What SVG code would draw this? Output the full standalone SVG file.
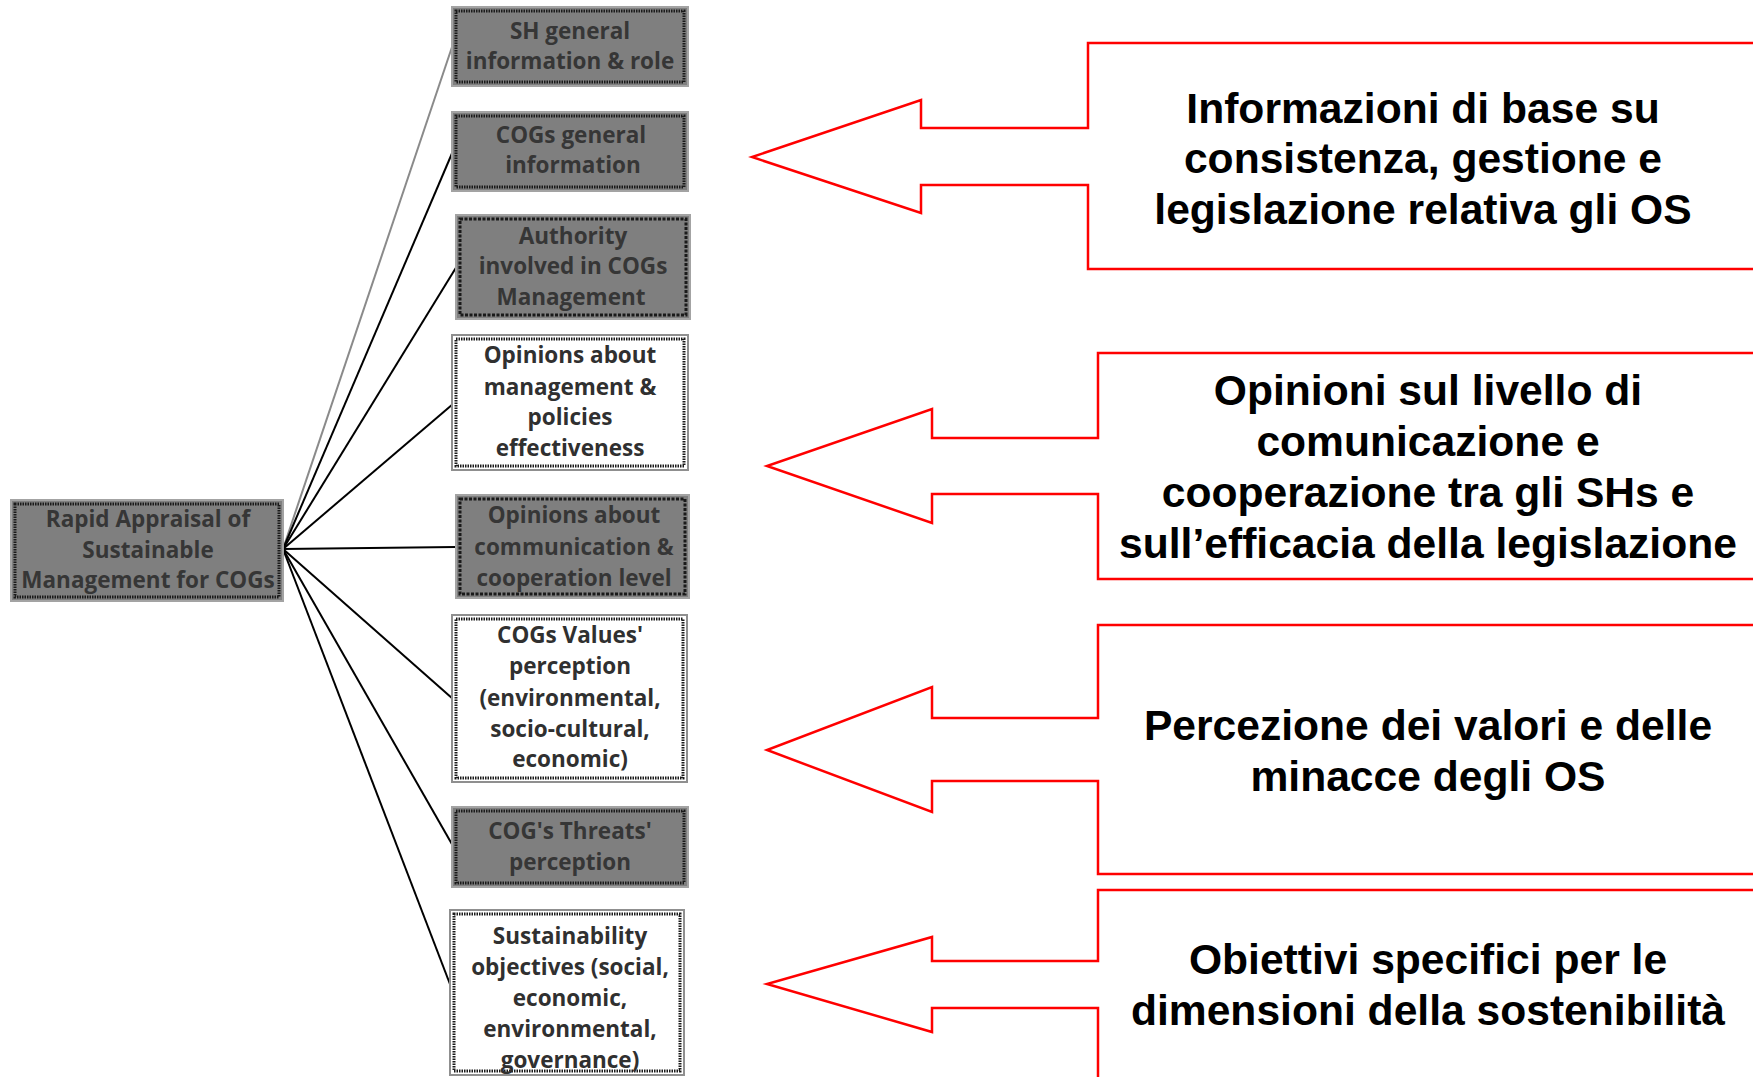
<svg xmlns="http://www.w3.org/2000/svg" width="1753" height="1077" viewBox="0 0 1753 1077">
<style>
  .bg { fill: #ffffff; }
  .gbox { fill: #7f7f7f; stroke: #a3a3a3; stroke-width: 2; }
  .wbox { fill: #ffffff; stroke: #8f8f8f; stroke-width: 2; }
  .band { fill: none; stroke: #1a1a1a; stroke-width: 3; stroke-dasharray: 1.5 1; }
  .band2 { fill: none; stroke: #1a1a1a; stroke-width: 3; stroke-dasharray: 3 1.5; }
  .ntxt { font-family: "Open Sans", "Noto Sans", "DejaVu Sans", sans-serif; font-weight: 700; font-size: 22.5px; text-anchor: middle; }
  .gtxt { fill: #363636; }
  .wtxt { fill: #303030; }
  .conn { stroke: #000000; stroke-width: 2; fill: none; }
  .conn-g { stroke: #8a8a8a; stroke-width: 2; fill: none; }
  .callout { fill: #ffffff; stroke: #ff0000; stroke-width: 2.5; stroke-linejoin: miter; }
  .ctxt { font-family: "Liberation Sans", Arial, sans-serif; font-weight: 700; font-size: 42.6px; fill: #000000; text-anchor: middle; }
</style>
<rect class="bg" x="0" y="0" width="1753" height="1077"/>

<g id="connectors">
  <line class="conn-g" x1="283" y1="549" x2="452" y2="47"/>
  <line class="conn" x1="283" y1="549" x2="453" y2="151"/>
  <line class="conn" x1="283" y1="549" x2="457" y2="266"/>
  <line class="conn" x1="283" y1="549" x2="453" y2="404"/>
  <line class="conn" x1="283" y1="549" x2="456" y2="547"/>
  <line class="conn" x1="283" y1="549" x2="453" y2="699"/>
  <line class="conn" x1="283" y1="549" x2="453" y2="846"/>
  <line class="conn" x1="283" y1="549" x2="453" y2="992"/>
</g>

<g id="root">
  <rect class="gbox" x="11" y="500" width="272" height="101"/>
  <rect class="band" x="15" y="504" width="264" height="93"/>
  <text class="ntxt gtxt" x="148" y="527">Rapid Appraisal of</text>
  <text class="ntxt gtxt" x="148" y="558">Sustainable</text>
  <text class="ntxt gtxt" x="148" y="588">Management for COGs</text>
</g>

<g id="node-sh">
  <rect class="gbox" x="452" y="7" width="236" height="79"/>
  <rect class="band" x="456" y="11" width="228" height="71"/>
  <text class="ntxt gtxt" x="570" y="39">SH general</text>
  <text class="ntxt gtxt" x="570" y="69">information &amp; role</text>
</g>

<g id="node-cogs-info">
  <rect class="gbox" x="452" y="112" width="236" height="79"/>
  <rect class="band" x="456" y="116" width="228" height="71"/>
  <text class="ntxt gtxt" x="571" y="143">COGs general</text>
  <text class="ntxt gtxt" x="573" y="173">information</text>
</g>

<g id="node-authority">
  <rect class="gbox" x="456" y="215" width="234" height="104"/>
  <rect class="band2" x="460" y="219" width="226" height="96"/>
  <text class="ntxt gtxt" x="573" y="244">Authority</text>
  <text class="ntxt gtxt" x="573" y="274">involved in COGs</text>
  <text class="ntxt gtxt" x="571" y="305">Management</text>
</g>

<g id="node-opinions-mgmt">
  <rect class="wbox" x="452" y="335" width="236" height="135"/>
  <rect class="band" x="456" y="339" width="228" height="127"/>
  <text class="ntxt wtxt" x="570" y="363">Opinions about</text>
  <text class="ntxt wtxt" x="570" y="395">management &amp;</text>
  <text class="ntxt wtxt" x="570" y="425">policies</text>
  <text class="ntxt wtxt" x="570" y="456">effectiveness</text>
</g>

<g id="node-opinions-comm">
  <rect class="gbox" x="456" y="495" width="233" height="103"/>
  <rect class="band2" x="460" y="499" width="225" height="95"/>
  <text class="ntxt gtxt" x="574" y="523">Opinions about</text>
  <text class="ntxt gtxt" x="574" y="555">communication &amp;</text>
  <text class="ntxt gtxt" x="574" y="586">cooperation level</text>
</g>

<g id="node-values">
  <rect class="wbox" x="452" y="615" width="235" height="167"/>
  <rect class="band" x="456" y="619" width="227" height="159"/>
  <text class="ntxt wtxt" x="570" y="643">COGs Values'</text>
  <text class="ntxt wtxt" x="570" y="674">perception</text>
  <text class="ntxt wtxt" x="570" y="706">(environmental,</text>
  <text class="ntxt wtxt" x="570" y="737">socio-cultural,</text>
  <text class="ntxt wtxt" x="570" y="767">economic)</text>
</g>

<g id="node-threats">
  <rect class="gbox" x="452" y="807" width="236" height="80"/>
  <rect class="band" x="456" y="811" width="228" height="72"/>
  <text class="ntxt gtxt" x="570" y="839">COG's Threats'</text>
  <text class="ntxt gtxt" x="570" y="870">perception</text>
</g>

<g id="node-sustainability">
  <rect class="wbox" x="450" y="910" width="234" height="165"/>
  <rect class="band" x="454" y="914" width="226" height="157"/>
  <text class="ntxt wtxt" x="570" y="944">Sustainability</text>
  <text class="ntxt wtxt" x="570" y="975">objectives (social,</text>
  <text class="ntxt wtxt" x="570" y="1006">economic,</text>
  <text class="ntxt wtxt" x="570" y="1037">environmental,</text>
  <text class="ntxt wtxt" x="570" y="1068">governance)</text>
</g>

<g id="callout-1">
  <path class="callout" d="M1088,43 H1762 V269 H1088 V185 H921 V213 L752,157 L921,100 V128 H1088 Z"/>
  <text class="ctxt" x="1423" y="123">Informazioni di base su</text>
  <text class="ctxt" x="1423" y="173">consistenza, gestione e</text>
  <text class="ctxt" x="1423" y="224">legislazione relativa gli OS</text>
</g>

<g id="callout-2">
  <path class="callout" d="M1098,353 H1762 V579 H1098 V494 H932 V523 L767,466 L932,409 V438 H1098 Z"/>
  <text class="ctxt" x="1428" y="405">Opinioni sul livello di</text>
  <text class="ctxt" x="1428" y="456">comunicazione e</text>
  <text class="ctxt" x="1428" y="507">cooperazione tra gli SHs e</text>
  <text class="ctxt" x="1428" y="558">sull’efficacia della legislazione</text>
</g>

<g id="callout-3">
  <path class="callout" d="M1098,625 H1762 V874 H1098 V781 H932 V812 L767,750 L932,687 V718 H1098 Z"/>
  <text class="ctxt" x="1428" y="740">Percezione dei valori e delle</text>
  <text class="ctxt" x="1428" y="791">minacce degli OS</text>
</g>

<g id="callout-4">
  <path class="callout" d="M1098,890 H1762 V1095 H1098 V1008 H932 V1032 L767,984 L932,937 V961 H1098 Z"/>
  <text class="ctxt" x="1428" y="974">Obiettivi specifici per le</text>
  <text class="ctxt" x="1428" y="1025">dimensioni della sostenibilità</text>
</g>
</svg>
